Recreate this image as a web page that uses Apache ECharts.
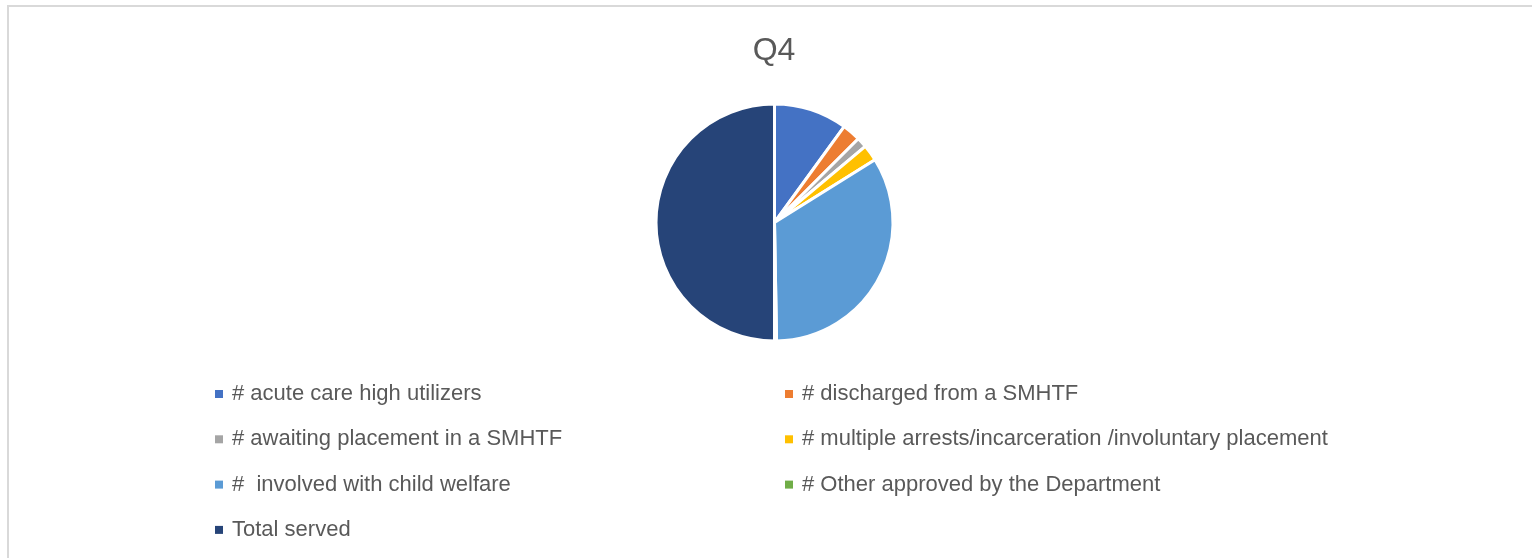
<!DOCTYPE html>
<html>
<head>
<meta charset="utf-8">
<script src="https://cdn.jsdelivr.net/npm/echarts@6/dist/echarts.min.js"></script>
<style>
html,body{margin:0;padding:0;background:#fff;}
#frame{position:absolute;left:7px;top:5px;width:1540px;height:600px;border-left:2px solid #d9d9d9;border-top:2px solid #d9d9d9;}
#chart{position:absolute;left:0;top:0;width:1532px;height:558px;}
</style>
</head>
<body>
<div id="frame"></div>
<div id="chart"></div>
<script>
const title = 'Q4';
const categories = [
  '# acute care high utilizers',
  '# discharged from a SMHTF',
  '# awaiting placement in a SMHTF',
  '# multiple arrests/incarceration /involuntary placement',
  '#  involved with child welfare',
  '# Other approved by the Department',
  'Total served'
];
const values = [36, 9, 5, 8, 121, 1, 180];
const colors = ['#4472C4', '#ED7D31', '#A5A5A5', '#FFC000', '#5B9BD5', '#70AD47', '#264478'];
const leftLegend = [categories[0], categories[2], categories[4], categories[6]];
const rightLegend = [categories[1], categories[3], categories[5]];

const chart = echarts.init(document.getElementById('chart'), null, {renderer: 'canvas'});
const legendBase = {
  orient: 'vertical',
  top: 383,
  padding: 0,
  itemWidth: 8,
  itemHeight: 8,
  itemGap: 23.3,
  icon: 'rect',
  selectedMode: false,
  itemStyle: {borderWidth: 0},
  textStyle: {fontFamily: 'Liberation Sans', fontSize: 22, color: '#595959', lineHeight: 22, padding: [0, 0, 0, 4]}
};
chart.setOption({
  animation: false,
  color: colors,
  title: {
    text: title,
    left: 774,
    textAlign: 'center',
    top: 35,
    padding: 0,
    textStyle: {fontFamily: 'Liberation Sans', fontSize: 32, fontWeight: 'normal', color: '#595959'}
  },
  legend: [
    Object.assign({}, legendBase, {left: 215, data: leftLegend}),
    Object.assign({}, legendBase, {left: 785, data: rightLegend})
  ],
  series: [{
    type: 'pie',
    center: [774.5, 222.5],
    radius: 118.5,
    startAngle: 90,
    clockwise: true,
    label: {show: false},
    labelLine: {show: false},
    emphasis: {disabled: true},
    itemStyle: {borderColor: '#fff', borderWidth: 3},
    data: categories.map((c, i) => ({name: c, value: values[i]}))
  }]
});
</script>
</body>
</html>
